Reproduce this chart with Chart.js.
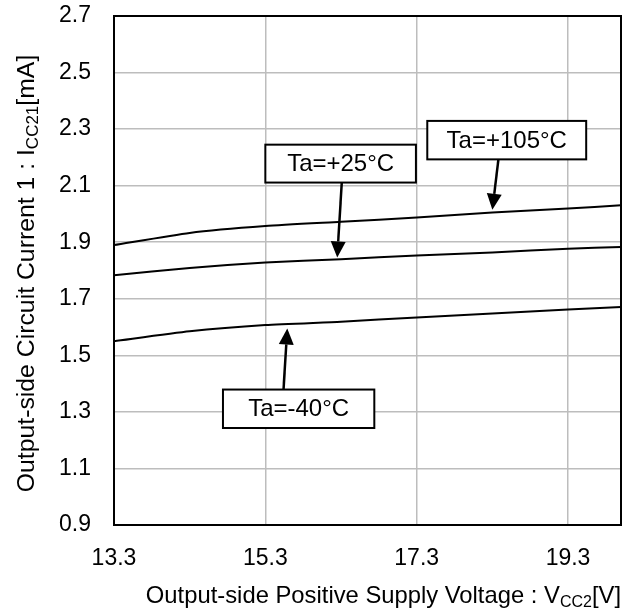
<!DOCTYPE html>
<html>
<head>
<meta charset="utf-8">
<script src="https://cdn.jsdelivr.net/npm/chart.js@4"></script>
<style>
  body { margin: 0; background: #fff; }
  #wrap { width: 623px; height: 612px; }
</style>
</head>
<body>
<div id="wrap"><canvas id="chart" width="623" height="612"></canvas></div>
<script>
// supply voltage VCC2 [V]
const voltages = [13.3, 14.3, 15.3, 16.3, 17.3, 18.3, 19.3, 20.0];
// output-side circuit current ICC21 [mA]
const currentHot = [1.890, 1.933, 1.957, 1.972, 1.987, 2.005, 2.019, 2.031];   // Ta=+105°C
const currentRoom = [1.783, 1.809, 1.828, 1.840, 1.853, 1.864, 1.877, 1.883];  // Ta=+25°C
const currentCold = [1.550, 1.585, 1.607, 1.619, 1.634, 1.648, 1.662, 1.671];  // Ta=-40°C

const xTicks = [13.3, 15.3, 17.3, 19.3];
const yTicks = [0.9, 1.1, 1.3, 1.5, 1.7, 1.9, 2.1, 2.3, 2.5, 2.7];

const FONT = "'Liberation Sans', Arial, sans-serif";
const TICK_SIZE = 23;
const LABEL_SIZE = 24;

// label boxes with arrows, in data units
const callouts = [
  { text: "Ta=+25°C", box: [15.3, 2.245, 17.29, 2.111], from: [16.31, 2.111], to: [16.25, 1.846] },
  { text: "Ta=+105°C", box: [17.44, 2.329, 19.54, 2.193], from: [18.38, 2.193], to: [18.30, 2.015] },
  { text: "Ta=-40°C", box: [14.74, 1.379, 16.74, 1.243], from: [15.54, 1.379], to: [15.59, 1.595] }
];

function toPoints(ys) {
  return voltages.map((v, i) => ({ x: v, y: ys[i] }));
}

function drawRich(ctx, parts, x, y, align, size) {
  let width = 0;
  parts.forEach(p => {
    ctx.font = (p.sub ? Math.round(size * 0.68) : size) + "px " + FONT;
    p.w = ctx.measureText(p.t).width;
    width += p.w;
  });
  let cx = align === "right" ? x - width : (align === "center" ? x - width / 2 : x);
  parts.forEach(p => {
    ctx.font = (p.sub ? Math.round(size * 0.68) : size) + "px " + FONT;
    ctx.textAlign = "left";
    ctx.textBaseline = "alphabetic";
    ctx.fillText(p.t, cx, p.sub ? y + 4 : y);
    cx += p.w;
  });
}

const framePlugin = {
  id: "frame",
  beforeDatasetsDraw(chart) {
    const { ctx, chartArea: a } = chart;
    ctx.save();
    ctx.strokeStyle = "#000";
    ctx.lineWidth = 2;
    ctx.strokeRect(a.left, a.top, a.right - a.left, a.bottom - a.top);
    ctx.restore();
  }
};

const calloutPlugin = {
  id: "callouts",
  afterDatasetsDraw(chart) {
    const { ctx, scales: { x, y } } = chart;
    ctx.save();
    callouts.forEach(c => {
      const x1 = x.getPixelForValue(c.box[0]), y1 = y.getPixelForValue(c.box[1]);
      const x2 = x.getPixelForValue(c.box[2]), y2 = y.getPixelForValue(c.box[3]);
      ctx.fillStyle = "#fff";
      ctx.fillRect(x1, y1, x2 - x1, y2 - y1);
      ctx.strokeStyle = "#000";
      ctx.lineWidth = 2;
      ctx.strokeRect(x1, y1, x2 - x1, y2 - y1);
      ctx.fillStyle = "#000";
      ctx.font = LABEL_SIZE + "px " + FONT;
      ctx.textAlign = "center";
      ctx.textBaseline = "middle";
      ctx.fillText(c.text, (x1 + x2) / 2, (y1 + y2) / 2 + 1);

      // arrow
      const fx = x.getPixelForValue(c.from[0]), fy = y.getPixelForValue(c.from[1]);
      const tx = x.getPixelForValue(c.to[0]), ty = y.getPixelForValue(c.to[1]);
      const ang = Math.atan2(ty - fy, tx - fx);
      const headLen = 16, headW = 7.5;
      const bx = tx - headLen * Math.cos(ang), by = ty - headLen * Math.sin(ang);
      ctx.lineWidth = 2.5;
      ctx.beginPath();
      ctx.moveTo(fx, fy);
      ctx.lineTo(bx, by);
      ctx.stroke();
      ctx.beginPath();
      ctx.moveTo(tx, ty);
      ctx.lineTo(bx + headW * Math.sin(ang), by - headW * Math.cos(ang));
      ctx.lineTo(bx - headW * Math.sin(ang), by + headW * Math.cos(ang));
      ctx.closePath();
      ctx.fill();
    });
    ctx.restore();
  }
};

const titlePlugin = {
  id: "axisTitles",
  afterDraw(chart) {
    const { ctx, chartArea: a } = chart;
    ctx.save();
    ctx.fillStyle = "#000";
    drawRich(ctx, [
      { t: "Output-side Positive Supply Voltage : V" },
      { t: "CC2", sub: true },
      { t: "[V]" }
    ], a.right, 603, "right", 23.8);
    ctx.translate(34, (a.top + a.bottom) / 2 + 3);
    ctx.rotate(-Math.PI / 2);
    drawRich(ctx, [
      { t: "Output-side Circuit Current 1 : I" },
      { t: "CC21", sub: true },
      { t: "[mA]" }
    ], 0, 0, "center", 24.8);
    ctx.restore();
  }
};

const lineStyle = {
  borderColor: "#000",
  borderWidth: 2,
  pointRadius: 0,
  tension: 0.2,
  fill: false
};

new Chart(document.getElementById("chart"), {
  type: "line",
  data: {
    datasets: [
      Object.assign({ label: "Ta=+105°C", data: toPoints(currentHot) }, lineStyle),
      Object.assign({ label: "Ta=+25°C", data: toPoints(currentRoom) }, lineStyle),
      Object.assign({ label: "Ta=-40°C", data: toPoints(currentCold) }, lineStyle)
    ]
  },
  options: {
    responsive: false,
    animation: false,
    layout: { padding: { top: 16, right: 2, left: 0, bottom: 0 } },
    plugins: { legend: { display: false }, tooltip: { enabled: false } },
    scales: {
      x: {
        type: "linear",
        min: 13.3,
        max: 20,
        afterBuildTicks(scale) { scale.ticks = xTicks.map(v => ({ value: v })); },
        afterFit(scale) {
          scale.height = 87;
          scale.paddingLeft = 0;
          scale.paddingRight = 0;
        },
        grid: { color: "#bdbdbd", lineWidth: 1.5, drawTicks: false },
        border: { display: false },
        ticks: {
          padding: 20,
          color: "#000",
          font: { family: FONT, size: TICK_SIZE },
          callback: v => v.toFixed(1)
        }
      },
      y: {
        min: 0.9,
        max: 2.7,
        afterBuildTicks(scale) { scale.ticks = yTicks.map(v => ({ value: v })); },
        afterFit(scale) {
          scale.width = 114;
          scale.paddingTop = 0;
          scale.paddingBottom = 0;
        },
        grid: { color: "#bdbdbd", lineWidth: 1.5, drawTicks: false },
        border: { display: false },
        ticks: {
          padding: 23,
          color: "#000",
          font: { family: FONT, size: TICK_SIZE },
          callback: v => v.toFixed(1)
        }
      }
    }
  },
  plugins: [framePlugin, calloutPlugin, titlePlugin]
});
</script>
</body>
</html>
